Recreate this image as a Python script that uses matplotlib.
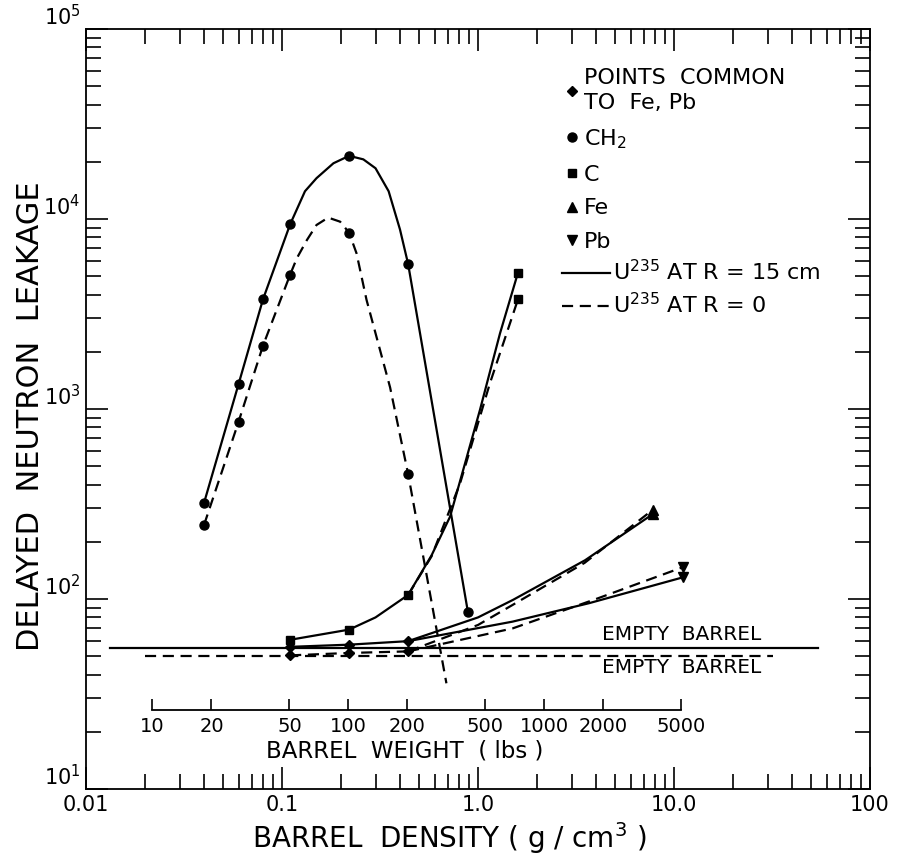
import numpy as np
import matplotlib
matplotlib.use('Agg')
import matplotlib.pyplot as plt
from matplotlib.lines import Line2D
from matplotlib.ticker import NullLocator, LogLocator, NullFormatter

plt.rcParams['font.family'] = ['DejaVu Sans']
plt.rcParams['mathtext.default'] = 'regular'

# ---------------- data ----------------
LBS_PER_GCC = 458.0   # barrel weight (lbs) per barrel density (g/cm3)

# CH2, U235 at R = 15 cm (solid)
ch2_r15_pts_x = [0.04, 0.06, 0.08, 0.11, 0.22, 0.44, 0.889]
ch2_r15_pts_y = [320, 1350, 3780, 9370, 21500, 5800, 85]
ch2_r15_curve_x = [0.04, 0.06, 0.08, 0.11, 0.131, 0.150, 0.183, 0.22, 0.26, 0.30, 0.35, 0.40, 0.44, 0.889]
ch2_r15_curve_y = [320, 1350, 3780, 9370, 14000, 16400, 19650, 21500, 20600, 18500, 14000, 8800, 5800, 85]

# CH2, U235 at R = 0 (dashed)
ch2_r0_pts_x = [0.04, 0.06, 0.08, 0.11, 0.22, 0.44]
ch2_r0_pts_y = [245, 855, 2155, 5090, 8470, 455]
ch2_r0_curve_x = [0.04, 0.06, 0.08, 0.11, 0.119, 0.134, 0.150, 0.172, 0.198, 0.22, 0.24, 0.27, 0.356, 0.44, 0.69]
ch2_r0_curve_y = [245, 855, 2155, 5090, 6210, 7750, 9300, 10170, 9680, 8470, 6600, 3750, 1300, 455, 36]

# C (squares)
c_r15_pts_x = [0.11, 0.22, 0.44, 1.6]
c_r15_pts_y = [61, 69, 105, 5220]
c_r15_curve_x = [0.11, 0.22, 0.30, 0.44, 0.58, 0.72, 0.86, 1.023, 1.295, 1.6]
c_r15_curve_y = [61, 69, 80, 105, 170, 271, 520, 988, 2500, 5220]
c_r0_pts_x = [1.6]
c_r0_pts_y = [3780]
c_r0_curve_x = [0.44, 0.58, 0.81, 1.15, 1.456, 1.6]
c_r0_curve_y = [105, 168, 406, 1365, 2825, 3780]

# points common to Fe, Pb (diamonds)
common_r15_x = [0.11, 0.22, 0.44]
common_r15_y = [56, 57.5, 60]
common_r0_x = [0.11, 0.22, 0.44]
common_r0_y = [50.5, 52, 53]

# Fe (triangles up)
fe_r15_x = [0.44, 1.0, 1.51, 3.52, 7.8]
fe_r15_y = [60, 80, 99, 160, 280]
fe_r0_x = [0.44, 1.0, 1.5, 3.5, 7.8]
fe_r0_y = [53, 73, 93, 155, 295]

# Pb (triangles down)
pb_r15_x = [0.44, 1.5, 3.68, 11.1]
pb_r15_y = [60, 76, 95, 130]
pb_r0_x = [0.44, 1.5, 4.0, 11.1]
pb_r0_y = [53, 70, 100, 147]

# empty barrel levels
empty_r15_x = [0.0133, 54]
empty_r15_y = [55, 55]
empty_r0_x = [0.02, 32]
empty_r0_y = [50, 50]

x_ticks = [0.01, 0.1, 1.0, 10.0, 100]
x_tick_labels = ['0.01', '0.1', '1.0', '10.0', '100']
y_ticks = [10, 100, 1000, 10000, 100000]
y_tick_labels = ['$10^{1}$', '$10^{2}$', '$10^{3}$', '$10^{4}$', '$10^{5}$']
weight_ticks = [10, 20, 50, 100, 200, 500, 1000, 2000, 5000]
weight_tick_labels = ['10', '20', '50', '100', '200', '500', '1000', '2000', '5000']

# ---------------- drawing ----------------
fig = plt.figure(figsize=(8.99, 8.60), dpi=100)
ax = fig.add_axes([86/899, 1-789/860, 784/899, 760/860])
ax.set_xscale('log')
ax.set_yscale('log')
ax.set_xlim(0.01, 100)
ax.set_ylim(10, 1e5)

lw = 1.6
dash = (0, (5, 3))
k = 'black'

ax.plot(ch2_r15_curve_x, ch2_r15_curve_y, color=k, lw=lw)
ax.plot(ch2_r15_pts_x, ch2_r15_pts_y, 'o', color=k, ms=6.5)
ax.plot(ch2_r0_curve_x, ch2_r0_curve_y, color=k, lw=lw, ls=dash)
ax.plot(ch2_r0_pts_x, ch2_r0_pts_y, 'o', color=k, ms=6.5)

ax.plot(c_r15_curve_x, c_r15_curve_y, color=k, lw=lw)
ax.plot(c_r15_pts_x, c_r15_pts_y, 's', color=k, ms=6)
ax.plot(c_r0_curve_x, c_r0_curve_y, color=k, lw=lw, ls=dash)
ax.plot(c_r0_pts_x, c_r0_pts_y, 's', color=k, ms=6)

ax.plot(common_r15_x, common_r15_y, color=k, lw=lw)
ax.plot(common_r0_x, common_r0_y, color=k, lw=lw, ls=dash)
ax.plot(common_r15_x, common_r15_y, 'D', color=k, ms=5)
ax.plot(common_r0_x, common_r0_y, 'D', color=k, ms=5)

ax.plot(fe_r15_x, fe_r15_y, color=k, lw=lw)
ax.plot(fe_r0_x, fe_r0_y, color=k, lw=lw, ls=dash)
ax.plot(fe_r15_x[-1:], fe_r15_y[-1:], '^', color=k, ms=7)
ax.plot(fe_r0_x[-1:], fe_r0_y[-1:], '^', color=k, ms=7)

ax.plot(pb_r15_x, pb_r15_y, color=k, lw=lw)
ax.plot(pb_r0_x, pb_r0_y, color=k, lw=lw, ls=dash)
ax.plot(pb_r15_x[-1:], pb_r15_y[-1:], 'v', color=k, ms=7)
ax.plot(pb_r0_x[-1:], pb_r0_y[-1:], 'v', color=k, ms=7)

ax.plot(empty_r15_x, empty_r15_y, color=k, lw=lw)
ax.plot(empty_r0_x, empty_r0_y, color=k, lw=lw, ls=dash)
ax.text(4.3, 65, 'EMPTY  BARREL', fontsize=14.5, ha='left', va='center')
ax.text(4.3, 43.5, 'EMPTY  BARREL', fontsize=14.5, ha='left', va='center')

# axes styling
for s in ax.spines.values():
    s.set_linewidth(1.3)
ax.set_xticks(x_ticks)
ax.set_xticklabels(x_tick_labels)
ax.set_yticks(y_ticks)
ax.set_yticklabels(y_tick_labels)
plt.setp(ax.get_yticklabels(), va='bottom')
ax.xaxis.set_minor_locator(LogLocator(base=10, subs=np.arange(2, 10)))
ax.xaxis.set_minor_formatter(NullFormatter())
ax.yaxis.set_minor_locator(LogLocator(base=10, subs=np.arange(2, 10)))
ax.yaxis.set_minor_formatter(NullFormatter())
ax.tick_params(which='both', direction='in', top=True, right=True, width=1.2, labelsize=15)
ax.tick_params(which='major', length=16, pad=4)
ax.tick_params(which='minor', length=11)

ax.set_xlabel('BARREL  DENSITY ( g / cm$^{3}$ )', fontsize=20)
ax.xaxis.label.set_va('center')
ax.xaxis.set_label_coords(0.464, -0.064)
ax.set_ylabel('DELAYED  NEUTRON  LEAKAGE', fontsize=22)
ax.yaxis.label.set_va('center')
ax.yaxis.set_label_coords(-0.071, 0.49)

# inner barrel-weight axis
sec = ax.secondary_xaxis(0.104, functions=(lambda d: np.asarray(d) * LBS_PER_GCC,
                                           lambda w: np.asarray(w) / LBS_PER_GCC))
sec.set_xticks(weight_ticks)
sec.set_xticklabels(weight_tick_labels)
sec.xaxis.set_minor_locator(NullLocator())
sec.tick_params(which='major', direction='in', length=8, width=1.2, labelsize=14, pad=5)
sec.spines['bottom'].set_bounds(weight_ticks[0], weight_ticks[-1])
sec.spines['bottom'].set_linewidth(1.3)
ax.text(0.407, 0.05, 'BARREL  WEIGHT  ( lbs )', transform=ax.transAxes,
        fontsize=16.5, ha='center', va='center')

# legends
mk_handles = [
    Line2D([], [], ls='none', marker='D', color=k, ms=5),
    Line2D([], [], ls='none', marker='o', color=k, ms=6.5),
    Line2D([], [], ls='none', marker='s', color=k, ms=6),
    Line2D([], [], ls='none', marker='^', color=k, ms=7),
    Line2D([], [], ls='none', marker='v', color=k, ms=7),
]
mk_labels = ['POINTS  COMMON\nTO  Fe, Pb', 'CH$_{2}$', 'C', 'Fe', 'Pb']
leg1 = ax.legend(mk_handles, mk_labels, loc='upper left', bbox_to_anchor=(0.612, 0.949),
                 frameon=False, borderpad=0, borderaxespad=0, handlelength=0.55,
                 handletextpad=0.25, labelspacing=0.62, fontsize=16)
for t in leg1.get_texts():
    t.set_linespacing(1.35)
ax.add_artist(leg1)
ln_handles = [Line2D([], [], color=k, lw=lw), Line2D([], [], color=k, lw=lw, ls=dash)]
ln_labels = ['U$^{235}$ AT R = 15 cm', 'U$^{235}$ AT R = 0']
ax.legend(ln_handles, ln_labels, loc='upper left', bbox_to_anchor=(0.607, 0.697),
          frameon=False, borderpad=0, borderaxespad=0, handlelength=2.15,
          handletextpad=0.15, labelspacing=0.35, fontsize=16)

fig.savefig('out.png', dpi=100)
